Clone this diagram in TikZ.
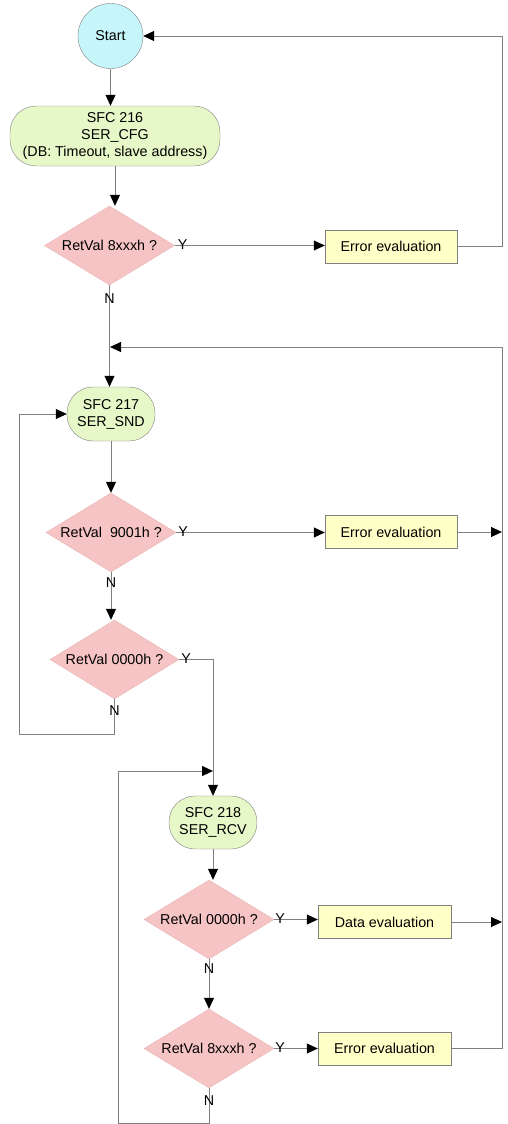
\documentclass[tikz,border=0pt]{standalone}
\usepackage{fontspec}
\setmainfont{Liberation Sans}
\usetikzlibrary{arrows.meta,shapes.geometric}
\definecolor{cyanfill}{HTML}{C6F6FA}
\definecolor{greenfill}{HTML}{E6F8C8}
\definecolor{pinkfill}{HTML}{F6C4C4}
\definecolor{pinkline}{HTML}{E8B4B4}
\definecolor{yellowfill}{HTML}{FFFFC8}
\definecolor{lin}{HTML}{808080}
\begin{document}
\begin{tikzpicture}[x=1pt,y=-1pt,
  font=\fontsize{14.3}{17}\selectfont,
  every node/.style={inner sep=0pt,align=center},
  startnode/.style={circle,draw=lin,fill=cyanfill,minimum size=65pt},
  sfcbox/.style={rectangle,draw=lin,fill=greenfill,rounded corners=26pt},
  decision/.style={diamond,draw=pinkline,fill=pinkfill,aspect=1.65,minimum width=130pt,minimum height=79pt},
  evalbox/.style={rectangle,draw=lin,fill=yellowfill,minimum width=132pt,minimum height=33pt},
  conn/.style={draw=lin,line width=0.8pt},
  arr/.style={conn,-{Triangle[length=11pt,width=10pt,color=black,fill=black]}},
  yn/.style={inner sep=0pt}
]
\useasboundingbox (0,0) rectangle (507,1124);

\node[startnode] (start) at (110.5,36) {Start};
\node[sfcbox,minimum width=210pt,minimum height=60pt] (sfc216) at (115,136) {SFC 216\\SER\_CFG\\(DB: Timeout, slave address)};
\node[decision] (d1) at (109.5,245.5) {RetVal 8xxxh ?};
\node[evalbox] (err1) at (391,246.5) {Error evaluation};

\node[sfcbox,minimum width=88pt,minimum height=54pt] (sfc217) at (111,414) {SFC 217\\SER\_SND};
\node[decision] (d2) at (111,532.5) {RetVal\ \ 9001h ?};
\node[evalbox] (err2) at (391,532) {Error evaluation};
\node[decision,minimum width=129pt] (d3) at (114.5,659.5) {RetVal 0000h ?};

\node[sfcbox,minimum width=88pt,minimum height=53pt] (sfc218) at (213,822.5) {SFC 218\\SER\_RCV};
\node[decision] (d4) at (209,919.5) {RetVal 0000h ?};
\node[evalbox,minimum width=133pt] (data) at (384.5,922) {Data evaluation};
\node[decision] (d5) at (209,1048.5) {RetVal 8xxxh ?};
\node[evalbox,minimum width=133pt] (err3) at (384.5,1048.5) {Error evaluation};

\coordinate (rx) at (502,36);
\coordinate (j1) at (110,347);
\coordinate (lx1) at (19,734);
\coordinate (j2) at (213,771);
\coordinate (lx2) at (118,1123);

% main flow
\draw[arr] (start.south) -- (start.south |- sfc216.north);
\draw[arr] (sfc216.south) -- (sfc216.south |- d1.north);
\draw[arr] (d1.east) -- (d1.east -| err1.west);
\draw[arr] (err1.east) -- (err1.east -| rx) |- (start.east);
\draw[arr] (d1.south) -- (d1.south |- sfc217.north);
\draw[arr] (err3.east) -- (err3.east -| rx) |- (j1);

\draw[arr] (sfc217.south) -- (sfc217.south |- d2.north);
\draw[arr] (d2.east) -- (d2.east -| err2.west);
\draw[arr] (err2.east) -- (err2.east -| rx);
\draw[arr] (d2.south) -- (d2.south |- d3.north);
\draw[arr] (d3.south) -- (d3.south |- lx1) -- (lx1) |- (sfc217.west);
\draw[arr] (d3.east) -| (sfc218.north);

\draw[arr] (sfc218.south) -- (sfc218.south |- d4.north);
\draw[arr] (d4.east) -- (d4.east -| data.west);
\draw[arr] (data.east) -- (data.east -| rx);
\draw[arr] (d4.south) -- (d4.south |- d5.north);
\draw[arr] (d5.east) -- (d5.east -| err3.west);
\draw[arr] (d5.south) -- (d5.south |- lx2) -- (lx2) |- (j2);

% labels
\node[yn] (y1) at ([xshift=8pt,yshift=1pt]d1.east) {Y};
\node[yn] (n1) at ([yshift=-13pt]d1.south) {N};
\node[yn] (y2) at ([xshift=7pt,yshift=1pt]d2.east) {Y};
\node[yn] (n2) at ([yshift=-10pt]d2.south) {N};
\node[yn] (y3) at ([xshift=7pt,yshift=1pt]d3.east) {Y};
\node[yn] (n3) at ([yshift=-11pt]d3.south) {N};
\node[yn] (y4) at ([xshift=6pt,yshift=1pt]d4.east) {Y};
\node[yn] (n4) at ([yshift=-9pt]d4.south) {N};
\node[yn] (y5) at ([xshift=6pt,yshift=1pt]d5.east) {Y};
\node[yn] (n5) at ([yshift=-12pt]d5.south) {N};
\end{tikzpicture}
\end{document}
